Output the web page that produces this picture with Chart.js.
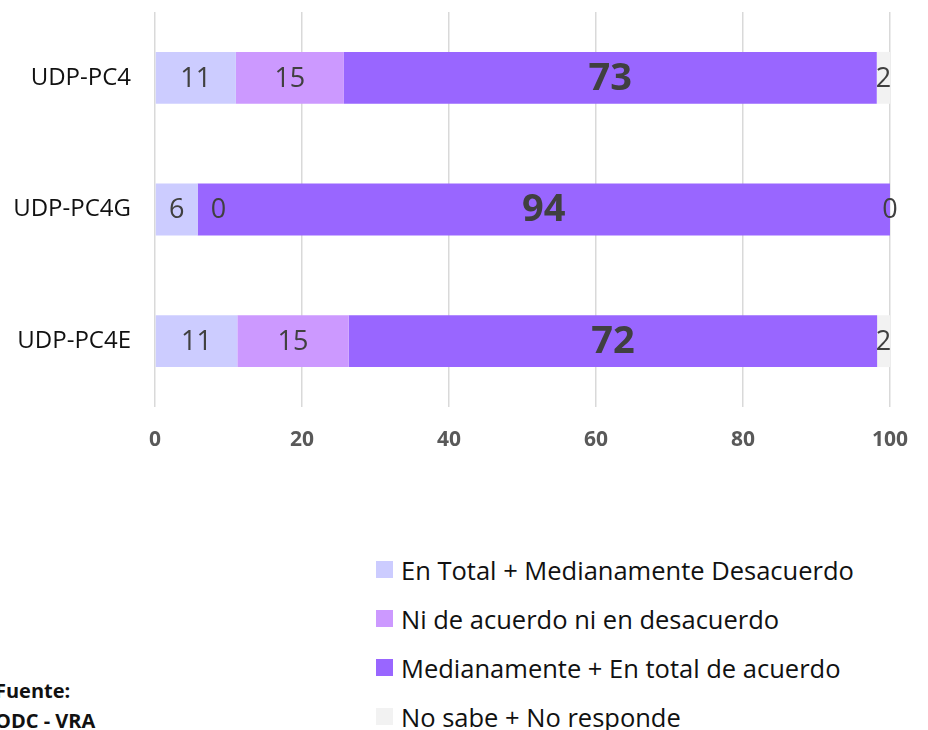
<!DOCTYPE html>
<html>
<head>
<meta charset="utf-8">
<script src="https://cdn.jsdelivr.net/npm/chart.js@4/dist/chart.umd.min.js"></script>
<style>
  body { margin: 0; background: #fff; font-family: "Open Sans", sans-serif; width: 928px; height: 730px; overflow: hidden; position: relative; }
  #wrap { position: absolute; left: 0; top: 0; width: 928px; height: 460px; }
  #legend { position: absolute; left: 376px; top: 545px; }
  .item { height: 49px; display: flex; align-items: center; font-size: 25.5px; color: #111; white-space: nowrap; }
  .box { width: 17px; height: 17px; margin-right: 8px; }
  #source { position: absolute; left: -5px; top: 676px; font-weight: bold; font-size: 20px; line-height: 30px; color: #111; }
</style>
</head>
<body>
<div id="wrap"><canvas id="barChart" width="928" height="460"></canvas></div>
<div id="legend"></div>
<div id="source">Fuente:<br>ODC - VRA</div>
<script>
const categories = ['UDP-PC4', 'UDP-PC4G', 'UDP-PC4E'];
const seriesNames = [
    'En Total + Medianamente Desacuerdo',
    'Ni de acuerdo ni en desacuerdo',
    'Medianamente + En total de acuerdo',
    'No sabe + No responde'
];
const desacuerdo = [11.0, 5.8, 11.2];
const neutral = [14.7, 0, 15.15];
const acuerdo = [72.5, 94.2, 71.9];
const noSabe = [1.8, 0, 1.75];
const tickValues = [0, 20, 40, 60, 80, 100];
const colors = ['#ccccff', '#cc99ff', '#9966ff', '#f2f2f2'];

// Draws the rounded value on each segment
const valueLabels = {
    id: 'valueLabels',
    afterDatasetsDraw(chart) {
        const ctx = chart.ctx;
        const last = chart.data.datasets.length - 1;
        ctx.save();
        ctx.fillStyle = '#404040';
        ctx.textBaseline = 'middle';
        chart.data.datasets.forEach((ds, i) => {
            const meta = chart.getDatasetMeta(i);
            meta.data.forEach((bar, j) => {
                const v = ds.data[j];
                const big = i === 2;
                ctx.font = (big ? 'bold 38px' : '27px') + ' "Open Sans"';
                let x = (bar.x + bar.base) / 2;
                ctx.textAlign = 'center';
                if (v === 0 && i !== last) {
                    ctx.textAlign = 'left';
                    x = bar.base + 13;
                }
                ctx.fillText(String(Math.round(v)), x, bar.y + 1);
            });
        });
        ctx.restore();
    }
};

const chart = new Chart(document.getElementById('barChart').getContext('2d'), {
    type: 'bar',
    data: {
        labels: categories,
        datasets: [desacuerdo, neutral, acuerdo, noSabe].map((d, i) => ({
            label: seriesNames[i],
            data: d,
            backgroundColor: colors[i],
            categoryPercentage: 1,
            barPercentage: 0.394
        }))
    },
    options: {
        indexAxis: 'y',
        responsive: false,
        animation: false,
        layout: { padding: { top: 12, right: 38, left: 0, bottom: 0 } },
        plugins: {
            legend: { display: false },
            tooltip: { enabled: false }
        },
        scales: {
            x: {
                stacked: true,
                min: 0,
                max: 100,
                afterBuildTicks: (scale) => { scale.ticks = tickValues.map(v => ({ value: v })); },
                afterFit: (scale) => { scale.height = 53; },
                grid: { color: '#d9d9d9', lineWidth: 1.5, drawTicks: false },
                border: { display: false },
                ticks: {
                    padding: 20,
                    color: '#595959',
                    font: { family: 'Open Sans', size: 21, weight: 'bold' }
                }
            },
            y: {
                stacked: true,
                afterFit: (scale) => {
                    scale.width = 155;
                    scale.paddingTop = 0;
                    scale.paddingBottom = 0;
                },
                grid: { display: false, drawTicks: false },
                border: { display: false },
                ticks: {
                    padding: 24,
                    color: '#111',
                    font: { family: 'Open Sans', size: 24 }
                }
            }
        }
    },
    plugins: [valueLabels]
});

// Vertical legend built from the chart's own legend items
const legendEl = document.getElementById('legend');
chart.options.plugins.legend.labels.generateLabels(chart).forEach(item => {
    const row = document.createElement('div');
    row.className = 'item';
    const box = document.createElement('span');
    box.className = 'box';
    box.style.background = item.fillStyle;
    row.appendChild(box);
    row.appendChild(document.createTextNode(item.text));
    legendEl.appendChild(row);
});
</script>
</body>
</html>
